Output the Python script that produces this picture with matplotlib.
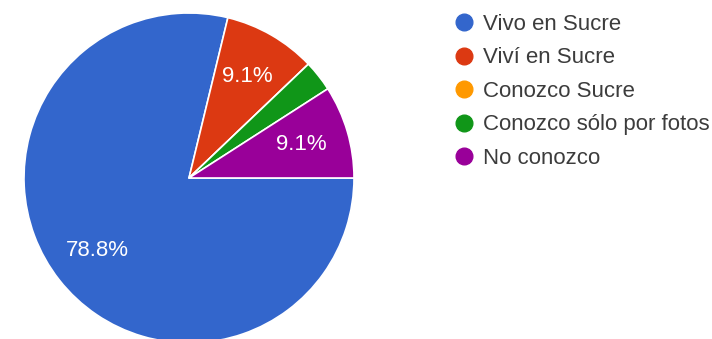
import matplotlib.pyplot as plt
from matplotlib.lines import Line2D

# Data (33 responses)
labels = ['Vivo en Sucre', 'Viví en Sucre', 'Conozco Sucre', 'Conozco sólo por fotos', 'No conozco']
counts = [26, 3, 0, 1, 3]
colors = ['#3366cc', '#dc3912', '#ff9900', '#109618', '#990099']

plt.rcParams['font.family'] = ['Liberation Sans', 'DejaVu Sans']

W, H = 712, 339
fig = plt.figure(figsize=(W / 100, H / 100), dpi=100)
fig.set_facecolor('white')

# Pie axes: center (189, 178), radius 165 px
cx, cy, r = 189, 178, 165
ax = fig.add_axes([(cx - r) / W, (H - cy - r) / H, 2 * r / W, 2 * r / H])


def pct(p):
    return '{:.1f}%'.format(p) if p >= 5 else ''


wedges, texts, autotexts = ax.pie(
    counts, colors=colors, startangle=0, counterclock=False,
    autopct=pct, pctdistance=0.71,
    wedgeprops=dict(edgecolor='white', linewidth=1.2),
    textprops=dict(color='white', fontsize=16),
)
ax.set_xlim(-1, 1)
ax.set_ylim(-1, 1)
ax.set_aspect('equal')
ax.axis('off')

# Legend
handles = [Line2D([], [], linestyle='none', marker='o', markersize=12,
                  markerfacecolor=c, markeredgecolor=c) for c in colors]
fig.legend(handles, labels, loc='upper left',
           bbox_to_anchor=(453 / W, 1 - 14 / H),
           frameon=False, fontsize=16, labelcolor='#3c3c3c',
           handlelength=1.0, handletextpad=0.36, labelspacing=0.56,
           borderpad=0, borderaxespad=0)

fig.savefig('out.png', dpi=100)
